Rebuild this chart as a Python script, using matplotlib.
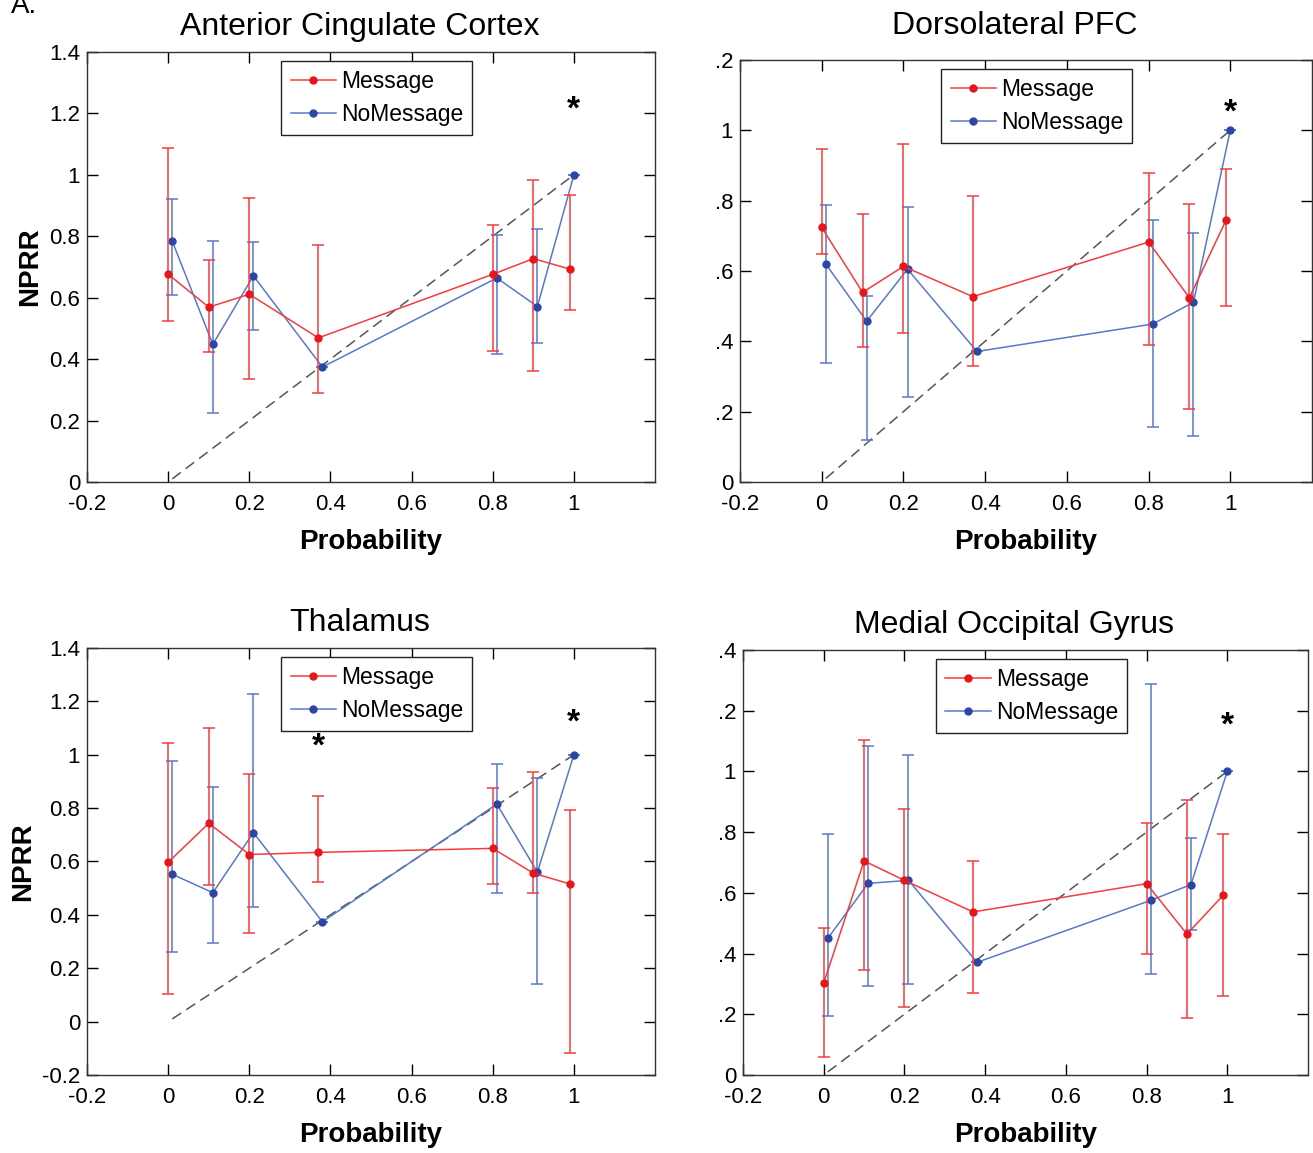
import numpy as np
import matplotlib
matplotlib.use('Agg')
import matplotlib.pyplot as plt
from matplotlib.lines import Line2D

plt.rcParams['font.family'] = ['Liberation Sans', 'DejaVu Sans']

# probabilities (Message slightly left, NoMessage slightly right, as in the figure)
x_msg = [0.0, 0.1, 0.2, 0.37, 0.8, 0.9, 0.99]
x_nomsg = [0.01, 0.11, 0.21, 0.38, 0.81, 0.91, 1.0]

titles = ['Anterior Cingulate Cortex', 'Dorsolateral PFC', 'Thalamus', 'Medial Occipital Gyrus']

# Anterior Cingulate Cortex
acc_msg = [0.676, 0.569, 0.611, 0.469, 0.676, 0.727, 0.693]
acc_msg_hi = [1.087, 0.722, 0.923, 0.771, 0.836, 0.983, 0.935]
acc_msg_lo = [0.523, 0.422, 0.336, 0.288, 0.427, 0.362, 0.560]
acc_nomsg = [0.784, 0.448, 0.671, 0.374, 0.664, 0.571, 1.0]
acc_nomsg_hi = [0.922, 0.784, 0.780, 0.374, 0.803, 0.822, 1.0]
acc_nomsg_lo = [0.607, 0.223, 0.495, 0.374, 0.417, 0.451, 1.0]

# Dorsolateral PFC
dl_msg = [0.724, 0.539, 0.613, 0.527, 0.682, 0.524, 0.745]
dl_msg_hi = [0.948, 0.762, 0.962, 0.813, 0.878, 0.791, 0.891]
dl_msg_lo = [0.647, 0.383, 0.424, 0.330, 0.389, 0.207, 0.501]
dl_nomsg = [0.620, 0.457, 0.605, 0.371, 0.449, 0.511, 1.0]
dl_nomsg_hi = [0.787, 0.530, 0.783, 0.371, 0.746, 0.707, 1.0]
dl_nomsg_lo = [0.338, 0.118, 0.241, 0.371, 0.157, 0.130, 1.0]

# Thalamus
th_msg = [0.597, 0.743, 0.626, 0.634, 0.649, 0.556, 0.516]
th_msg_hi = [1.044, 1.099, 0.927, 0.847, 0.874, 0.935, 0.792]
th_msg_lo = [0.102, 0.512, 0.331, 0.522, 0.517, 0.483, -0.116]
th_nomsg = [0.552, 0.483, 0.708, 0.374, 0.815, 0.560, 1.0]
th_nomsg_hi = [0.976, 0.878, 1.227, 0.374, 0.965, 0.913, 1.0]
th_nomsg_lo = [0.259, 0.294, 0.429, 0.374, 0.483, 0.142, 1.0]

# Medial Occipital Gyrus
mog_msg = [0.303, 0.705, 0.641, 0.537, 0.630, 0.464, 0.592]
mog_msg_hi = [0.484, 1.103, 0.875, 0.705, 0.830, 0.905, 0.795]
mog_msg_lo = [0.058, 0.347, 0.225, 0.269, 0.397, 0.187, 0.260]
mog_nomsg = [0.450, 0.631, 0.641, 0.371, 0.575, 0.627, 1.0]
mog_nomsg_hi = [0.795, 1.085, 1.054, 0.371, 1.287, 0.782, 1.0]
mog_nomsg_lo = [0.195, 0.294, 0.299, 0.371, 0.334, 0.477, 1.0]

# significance stars (x, y) per panel
stars = [[(1.0, 1.21)], [(1.0, 1.05)], [(0.37, 1.03), (1.0, 1.12)], [(1.0, 1.15)]]

panels = [
    (acc_msg, acc_msg_lo, acc_msg_hi, acc_nomsg, acc_nomsg_lo, acc_nomsg_hi),
    (dl_msg, dl_msg_lo, dl_msg_hi, dl_nomsg, dl_nomsg_lo, dl_nomsg_hi),
    (th_msg, th_msg_lo, th_msg_hi, th_nomsg, th_nomsg_lo, th_nomsg_hi),
    (mog_msg, mog_msg_lo, mog_msg_hi, mog_nomsg, mog_nomsg_lo, mog_nomsg_hi),
]

ylims = [(0, 1.4), (0, 1.2), (-0.2, 1.4), (0, 1.4)]
yticks = [
    [0, 0.2, 0.4, 0.6, 0.8, 1.0, 1.2, 1.4],
    [0, 0.2, 0.4, 0.6, 0.8, 1.0, 1.2],
    [-0.2, 0, 0.2, 0.4, 0.6, 0.8, 1.0, 1.2, 1.4],
    [0, 0.2, 0.4, 0.6, 0.8, 1.0, 1.2, 1.4],
]
ytick_labels = [
    ['0', '0.2', '0.4', '0.6', '0.8', '1', '1.2', '1.4'],
    ['0', '.2', '.4', '.6', '.8', '1', '.2'],
    ['-0.2', '0', '0.2', '0.4', '0.6', '0.8', '1', '1.2', '1.4'],
    ['0', '.2', '.4', '.6', '.8', '1', '.2', '.4'],
]
xticks = [-0.2, 0, 0.2, 0.4, 0.6, 0.8, 1.0]
xtick_labels = ['-0.2', '0', '0.2', '0.4', '0.6', '0.8', '1']

# axes rectangles in figure fractions
rects = [
    [0.0663, 0.582, 0.4326, 0.373],
    [0.5636, 0.582, 0.4356, 0.366],
    [0.0663, 0.0677, 0.4326, 0.3703],
    [0.5659, 0.0677, 0.4303, 0.3686],
]
legend_x = [0.334, 0.344, 0.334, 0.334]
title_pad = [12, 19, 12, 12]

red_line = '#f43c3c'
red_mark = '#e8151b'
blue_line = '#5a78c8'
blue_mark = '#2b47a6'

fig = plt.figure(figsize=(13.13, 11.53), dpi=100)

for i in range(4):
    ax = fig.add_axes(rects[i])
    m, mlo, mhi, n, nlo, nhi = panels[i]
    m = np.array(m); n = np.array(n)
    m_err = [m - np.array(mlo), np.array(mhi) - m]
    n_err = [n - np.array(nlo), np.array(nhi) - n]

    ax.plot([0.01, 1.0], [0.01, 1.0], '--', color='#555555', lw=1.1, dashes=(7, 4), zorder=1)
    ax.errorbar(x_msg, m, yerr=m_err, color=red_line, ecolor=red_line, lw=1.1,
                elinewidth=1.1, capsize=4, capthick=1.1, marker='o', ms=5,
                mfc=red_mark, mec=red_mark, zorder=3)
    ax.errorbar(x_nomsg, n, yerr=n_err, color=blue_line, ecolor=blue_line, lw=1.1,
                elinewidth=1.1, capsize=4, capthick=1.1, marker='o', ms=5,
                mfc=blue_mark, mec=blue_mark, zorder=2)

    for sx, sy in stars[i]:
        ax.text(sx, sy, '*', ha='center', va='center', fontsize=24, fontweight='bold')

    ax.set_xlim(-0.2, 1.2)
    ax.set_ylim(*ylims[i])
    ax.set_xticks(xticks)
    ax.set_xticklabels(xtick_labels)
    ax.set_yticks(yticks[i])
    ax.set_yticklabels(ytick_labels[i])
    ax.tick_params(direction='in', top=True, right=True, length=8, width=1,
                   labelsize=16)
    ax.tick_params(axis='x', pad=9)
    ax.tick_params(axis='y', pad=5)
    for sp in ax.spines.values():
        sp.set_linewidth(1.0)
        sp.set_color('#333333')

    ax.set_title(titles[i], fontsize=23, pad=title_pad[i], x=0.48)
    ax.set_xlabel('Probability', fontsize=20, fontweight='bold', labelpad=10)
    if i in (0, 2):
        ax.set_ylabel('NPRR', fontsize=20, fontweight='bold', labelpad=4)

    handles = [
        Line2D([], [], color=red_line, lw=1.1, marker='o', ms=5, mfc=red_mark, mec=red_mark),
        Line2D([], [], color=blue_line, lw=1.1, marker='o', ms=5, mfc=blue_mark, mec=blue_mark),
    ]
    leg = ax.legend(handles, ['Message', 'NoMessage'], loc='upper left',
                    bbox_to_anchor=(legend_x[i], 0.99),
                    fontsize=16.5, fancybox=False, framealpha=1, edgecolor='#222222',
                    handlelength=2.0, handletextpad=0.2, borderpad=0.4,
                    labelspacing=0.45, borderaxespad=0.2)
    leg.get_frame().set_linewidth(1.0)

fig.text(0.008, 0.995, 'A.', fontsize=20, va='center', ha='left')

fig.savefig('out.png', dpi=100)
